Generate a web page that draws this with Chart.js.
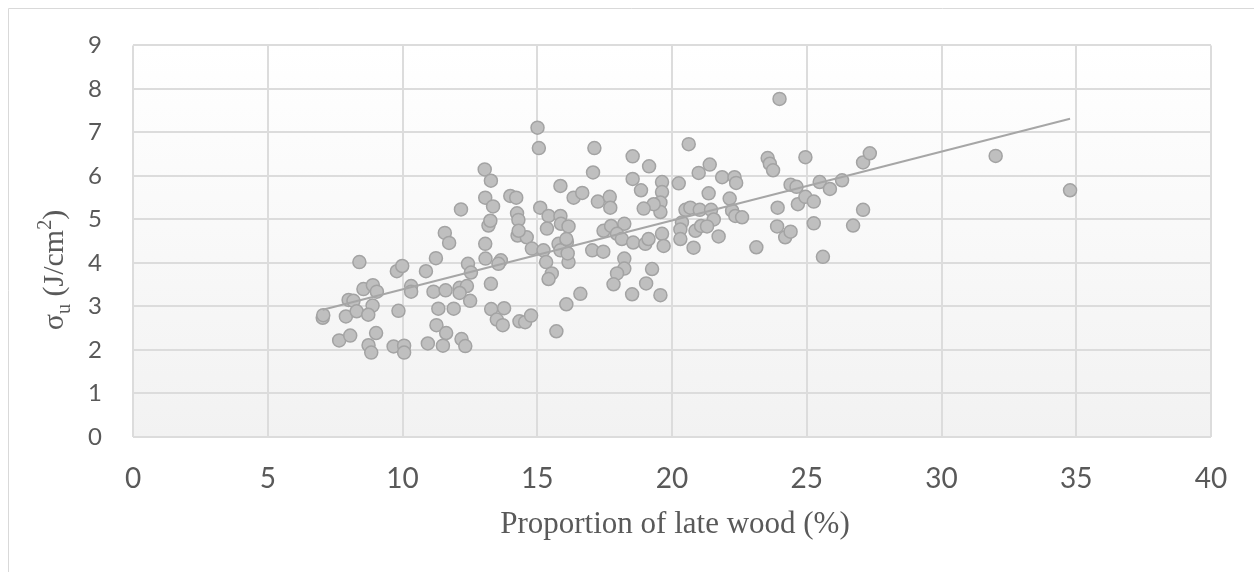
<!DOCTYPE html>
<html>
<head>
<meta charset="utf-8">
<script src="https://cdn.jsdelivr.net/npm/chart.js@4.4.0/dist/chart.umd.min.js"></script>
<style>
html,body{margin:0;padding:0;background:#fff;}
#wrap{position:absolute;left:0;top:0;width:1254px;height:572px;}
</style>
</head>
<body>
<div id="wrap"><canvas id="c" width="1254" height="572"></canvas></div>
<script>
// Proportion of late wood (%)
const lateWood = [
7.04,7.06,7.65,8.06,8.40,8.00,8.18,7.90,8.30,8.55,8.90,9.05,8.89,8.73,9.02,8.74,8.84,9.85,9.79,9.99,
9.67,10.06,10.06,10.32,10.32,10.87,11.24,11.57,11.73,12.17,11.15,11.60,11.33,11.90,11.26,11.62,10.94,11.50,12.19,12.33,
12.12,12.39,12.12,12.51,12.43,12.54,13.07,13.36,13.19,13.07,13.08,13.28,13.29,13.05,13.28,13.26,13.65,13.56,13.77,13.50,
13.72,14.34,14.55,14.77,14.00,14.22,14.25,14.30,14.27,14.61,14.31,14.80,15.23,15.11,15.42,15.86,15.88,16.16,15.36,15.33,
15.54,15.42,15.79,16.10,15.86,16.16,16.08,15.71,15.86,16.35,16.67,15.01,15.06,17.12,17.07,18.54,19.15,17.25,17.69,17.71,
18.54,18.85,19.63,19.63,19.57,19.57,19.32,18.95,20.25,16.08,16.13,16.60,17.04,17.45,17.46,17.74,18.23,17.96,18.14,18.56,
19.01,19.13,19.63,19.69,18.23,18.23,17.96,17.83,19.26,19.04,18.52,19.57,20.62,20.99,21.40,21.86,22.32,22.38,21.36,22.14,
20.50,20.68,21.03,21.45,21.55,22.23,22.35,22.60,20.37,20.31,20.31,20.87,21.08,21.30,20.80,21.73,23.13,23.55,23.63,23.75,
24.95,23.92,24.40,24.62,24.67,24.95,25.26,23.90,24.20,24.40,25.26,25.48,25.86,26.31,25.60,27.09,27.34,27.09,26.72,32.01,
34.77,23.99
];
// σu (J/cm²)
const sigmaU = [
2.74,2.80,2.22,2.33,4.02,3.15,3.13,2.77,2.89,3.40,3.49,3.34,3.02,2.81,2.39,2.11,1.94,2.90,3.81,3.93,
2.08,2.10,1.94,3.47,3.34,3.81,4.11,4.69,4.46,5.23,3.34,3.37,2.95,2.95,2.57,2.39,2.15,2.10,2.25,2.09,
3.43,3.47,3.31,3.13,3.98,3.78,5.50,5.30,4.86,4.44,4.10,3.52,2.94,6.15,5.89,4.97,4.06,3.98,2.96,2.70,
2.57,2.66,2.64,2.79,5.54,5.50,5.14,4.99,4.63,4.59,4.74,4.33,4.29,5.27,5.08,5.08,4.90,4.84,4.79,4.02,
3.76,3.63,4.44,4.48,4.29,4.02,3.05,2.43,5.77,5.50,5.61,7.11,6.64,6.64,6.08,6.45,6.22,5.41,5.52,5.27,
5.93,5.67,5.86,5.63,5.39,5.17,5.35,5.25,5.83,4.55,4.22,3.29,4.29,4.26,4.74,4.85,4.90,4.67,4.55,4.47,
4.44,4.55,4.67,4.39,4.10,3.87,3.76,3.51,3.86,3.53,3.28,3.26,6.73,6.07,6.26,5.97,5.97,5.84,5.60,5.48,
5.22,5.27,5.22,5.22,5.00,5.20,5.08,5.05,4.93,4.77,4.55,4.74,4.85,4.84,4.35,4.61,4.36,6.41,6.28,6.13,
6.43,5.27,5.80,5.75,5.35,5.52,5.41,4.84,4.59,4.72,4.91,5.86,5.70,5.90,4.14,6.31,6.52,5.22,4.86,6.46,
5.67,7.77
];
const xTicks = [0,5,10,15,20,25,30,35,40];
const yTicks = [0,1,2,3,4,5,6,7,8,9];
const xTitle = 'Proportion of late wood (%)';

const points = lateWood.map((x, i) => ({x: x, y: sigmaU[i]}));

// linear trend line (least squares) from the data
const n = lateWood.length;
let sx=0, sy=0, sxx=0, sxy=0;
for (let i=0;i<n;i++){sx+=lateWood[i];sy+=sigmaU[i];sxx+=lateWood[i]*lateWood[i];sxy+=lateWood[i]*sigmaU[i];}
const slope = (n*sxy - sx*sy)/(n*sxx - sx*sx);
const intercept = (sy - slope*sx)/n;
const xMin = Math.min(...lateWood), xMax = Math.max(...lateWood);
const trend = [{x:xMin, y:intercept+slope*xMin},{x:xMax, y:intercept+slope*xMax}];

const TXT = '#595959';
const GRID = '#dcdcdc';

const bgPlugin = {
  id: 'bg',
  beforeDraw(chart){
    const {ctx, chartArea:a} = chart;
    ctx.save();
    const g = ctx.createLinearGradient(0, a.top, 0, a.bottom);
    g.addColorStop(0, '#ffffff');
    g.addColorStop(1, '#f2f2f2');
    ctx.fillStyle = g;
    ctx.fillRect(a.left, a.top, a.right-a.left, a.bottom-a.top);
    // outer frame (left and top edges)
    ctx.strokeStyle = '#d9d9d9';
    ctx.lineWidth = 1;
    ctx.beginPath();
    ctx.moveTo(8.5, 572); ctx.lineTo(8.5, 8.5); ctx.lineTo(1254, 8.5);
    ctx.stroke();
    ctx.restore();
  },
  afterDraw(chart){
    const {ctx, chartArea:a} = chart;
    ctx.save();
    ctx.fillStyle = TXT;
    // x title
    ctx.font = '31px "Liberation Serif", "Times New Roman", serif';
    ctx.textAlign = 'center';
    ctx.textBaseline = 'alphabetic';
    ctx.fillText(xTitle, 675, 533);
    // y title with subscript / superscript
    ctx.translate(63, 270);
    ctx.rotate(-Math.PI/2);
    ctx.textAlign = 'left';
    const big = '30px "Liberation Serif", "Times New Roman", serif';
    const small = '20px "Liberation Serif", "Times New Roman", serif';
    const parts = [
      {t:'σ', f:big, dy:0},
      {t:'u', f:small, dy:7},
      {t:' (J/cm', f:big, dy:0},
      {t:'2', f:small, dy:-12},
      {t:')', f:big, dy:0}
    ];
    let w = 0;
    parts.forEach(p => { ctx.font = p.f; p.w = ctx.measureText(p.t).width; w += p.w; });
    let x = -w/2;
    parts.forEach(p => { ctx.font = p.f; ctx.fillText(p.t, x, p.dy); x += p.w; });
    ctx.restore();
  }
};

function draw(){
  new Chart(document.getElementById('c'), {
    type: 'scatter',
    data: {
      datasets: [
        {
          type: 'line',
          label: 'Trend',
          data: trend,
          borderColor: '#a6a6a6',
          borderWidth: 2,
          pointRadius: 0,
          fill: false,
          order: 0
        },
        {
          label: 'σu',
          data: points,
          pointRadius: 6.5,
          pointHoverRadius: 6.5,
          backgroundColor: '#bfbfbf',
          borderColor: '#a3a3a3',
          borderWidth: 1.5,
          order: 1
        }
      ]
    },
    options: {
      responsive: false,
      devicePixelRatio: 1,
      animation: false,
      layout: {padding: {left: 0, top: 41, right: 43, bottom: 0}},
      plugins: {legend: {display: false}, tooltip: {enabled: false}},
      scales: {
        x: {
          type: 'linear', min: 0, max: 40,
          afterBuildTicks(s){ s.ticks = xTicks.map(v => ({value: v})); },
          afterFit(s){ s.height = 135; },
          ticks: {color: TXT, font: {family: 'Lato', size: 28}, padding: 25},
          grid: {color: GRID, lineWidth: 2, drawTicks: false},
          border: {display: false}
        },
        y: {
          type: 'linear', min: 0, max: 9,
          afterBuildTicks(s){ s.ticks = yTicks.map(v => ({value: v})); },
          afterFit(s){ s.width = 133; },
          ticks: {color: TXT, font: {family: 'Lato', size: 24}, padding: 31},
          grid: {color: GRID, lineWidth: 2, drawTicks: false},
          border: {display: false}
        }
      }
    },
    plugins: [bgPlugin]
  });
}
if (document.fonts && document.fonts.load) {
  Promise.all([document.fonts.load('28px Lato'), document.fonts.load('30px "Liberation Serif"')]).then(draw, draw);
} else { draw(); }
</script>
</body>
</html>
